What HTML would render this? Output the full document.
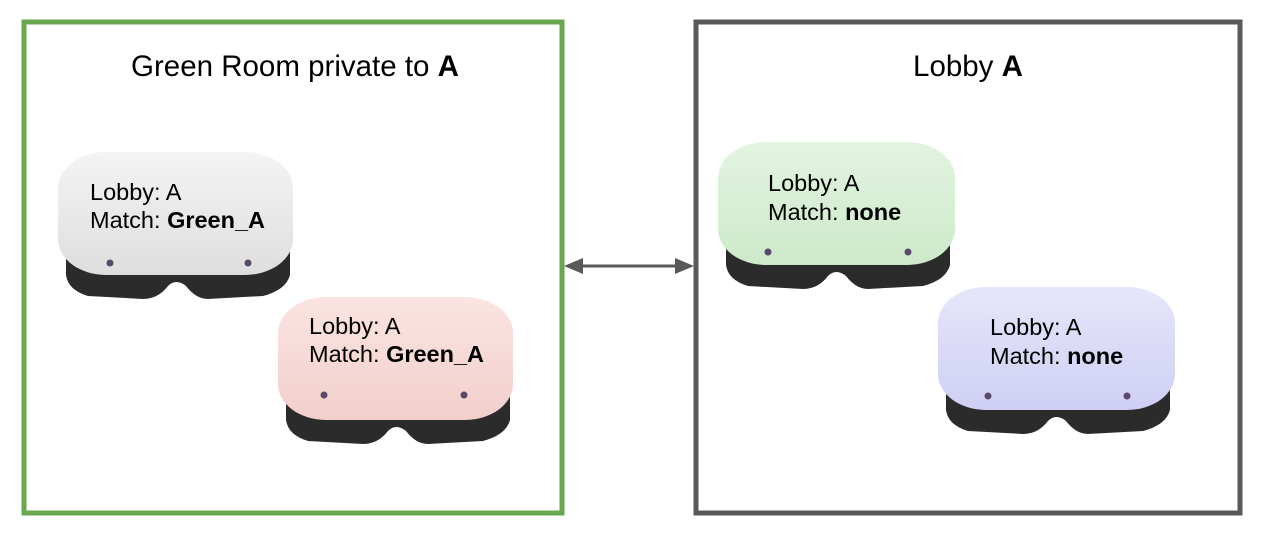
<!DOCTYPE html>
<html><head><meta charset="utf-8"><style>
html,body{margin:0;padding:0;background:#fff;width:1272px;height:540px;overflow:hidden}
svg text{font-family:"Liberation Sans",Arial,sans-serif}
</style></head><body>
<svg width="1272" height="540" viewBox="0 0 1272 540" xmlns="http://www.w3.org/2000/svg">
<defs>
<linearGradient id="gw" x1="0" y1="0" x2="0" y2="1"><stop offset="0" stop-color="#f4f4f4"/><stop offset="1" stop-color="#dedede"/></linearGradient>
<linearGradient id="gp" x1="0" y1="0" x2="0" y2="1"><stop offset="0" stop-color="#fbe4e2"/><stop offset="1" stop-color="#f1cfcc"/></linearGradient>
<linearGradient id="gg" x1="0" y1="0" x2="0" y2="1"><stop offset="0" stop-color="#e3f4e1"/><stop offset="1" stop-color="#cde9c9"/></linearGradient>
<linearGradient id="gb" x1="0" y1="0" x2="0" y2="1"><stop offset="0" stop-color="#e6e6fb"/><stop offset="1" stop-color="#cfcff4"/></linearGradient>
</defs>
<rect x="24" y="22" width="538" height="491" fill="none" stroke="#6aa84f" stroke-width="5"/>
<rect x="696" y="22" width="544" height="491" fill="none" stroke="#595959" stroke-width="5"/>
<text x="295" y="76" font-size="29.5" text-anchor="middle" fill="#000">Green Room private to <tspan font-weight="bold">A</tspan></text>
<text x="968" y="76" font-size="29.5" text-anchor="middle" fill="#000">Lobby <tspan font-weight="bold">A</tspan></text>
<line x1="580" y1="266" x2="678" y2="266" stroke="#595959" stroke-width="3"/>
<polygon points="564,266 583,258 583,274" fill="#595959"/>
<polygon points="694,266 675,258 675,274" fill="#595959"/>

<g transform="translate(58,150)">
<path d="M8 95 L8 125 Q10 140 30 146 L85 149 Q100 149 110 136 Q118 128 128 136 Q138 149 150 149 L205 146 Q228 140 232 125 L232 95 Z" fill="#2b2b2b"/>
<rect x="0" y="2" width="235" height="123" rx="48" ry="36" fill="url(#gw)"/>
<circle cx="52" cy="113" r="3.5" fill="#5a4a6a"/><circle cx="190" cy="113" r="3.5" fill="#5a4a6a"/>
</g>
<g transform="translate(278,295)">
<path d="M8 95 L8 125 Q10 140 30 146 L85 149 Q100 149 110 136 Q118 128 128 136 Q138 149 150 149 L205 146 Q228 140 232 125 L232 95 Z" fill="#2b2b2b"/>
<rect x="0" y="2" width="235" height="123" rx="48" ry="36" fill="url(#gp)"/>
<circle cx="46" cy="100" r="3.5" fill="#5a4a6a"/><circle cx="186" cy="100" r="3.5" fill="#5a4a6a"/>
</g>
<g transform="translate(718,140)">
<path d="M8 95 L8 125 Q10 140 30 146 L85 149 Q100 149 110 136 Q118 128 128 136 Q138 149 150 149 L205 146 Q228 140 232 125 L232 95 Z" fill="#2b2b2b"/>
<rect x="0" y="2" width="237" height="123" rx="48" ry="36" fill="url(#gg)"/>
<circle cx="50" cy="112" r="3.5" fill="#5a4a6a"/><circle cx="190" cy="112" r="3.5" fill="#5a4a6a"/>
</g>
<g transform="translate(938,285)">
<path d="M8 95 L8 125 Q10 140 30 146 L85 149 Q100 149 110 136 Q118 128 128 136 Q138 149 150 149 L205 146 Q228 140 232 125 L232 95 Z" fill="#2b2b2b"/>
<rect x="0" y="2" width="237" height="123" rx="48" ry="36" fill="url(#gb)"/>
<circle cx="50" cy="111" r="3.5" fill="#5a4a6a"/><circle cx="189" cy="111" r="3.5" fill="#5a4a6a"/>
</g>

<g font-size="23.5" fill="#000">
<text x="90" y="200">Lobby: A</text>
<text x="90" y="228">Match: <tspan font-weight="bold">Green_A</tspan></text>
<text x="309" y="334">Lobby: A</text>
<text x="309" y="362">Match: <tspan font-weight="bold">Green_A</tspan></text>
<text x="768" y="191">Lobby: A</text>
<text x="768" y="220">Match: <tspan font-weight="bold">none</tspan></text>
<text x="990" y="335">Lobby: A</text>
<text x="990" y="364">Match: <tspan font-weight="bold">none</tspan></text>
</g>
</svg>
</body></html>
